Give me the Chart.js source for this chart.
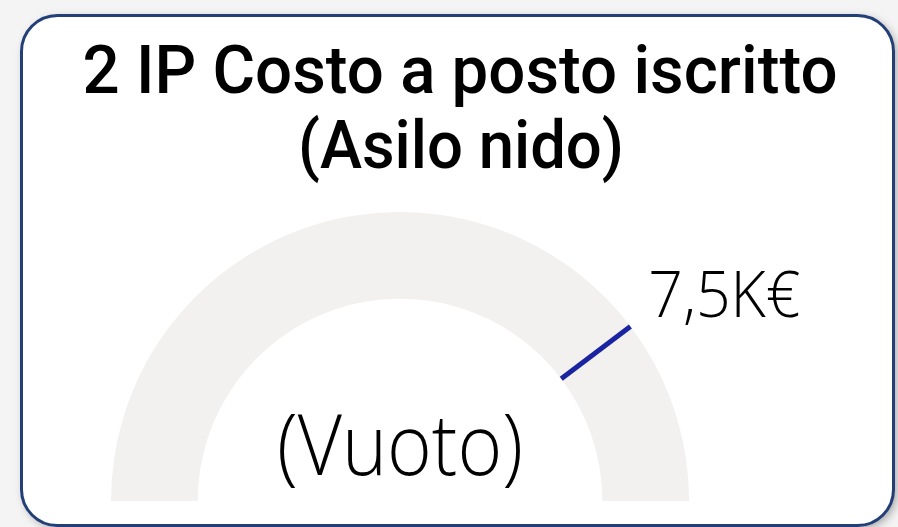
<!DOCTYPE html>
<html>
<head>
<meta charset="utf-8">
<script src="https://cdn.jsdelivr.net/npm/chart.js@4.4.1/dist/chart.umd.min.js"></script>
<style>
  html, body { margin: 0; padding: 0; background: #f4f4f4; }
  #wrap { width: 898px; height: 527px; position: relative; }
  canvas { display: block; }
</style>
</head>
<body>
<div id="wrap"><canvas id="gauge" width="898" height="527"></canvas></div>
<script>
// Gauge data: value missing, target shown on the arc
const titleLines = ['2 IP Costo a posto iscritto', '(Asilo nido)'];
const gaugeMin = 0;
const gaugeMax = 9.45;          // thousands of euro
const targetValue = 7.5;        // thousands of euro
const targetLabel = '7,5K€';
const valueLabel = '(Vuoto)';

// Two gray segments split at the target, so the arc boundary gives the target angle
const segmentValues = [targetValue - gaugeMin, gaugeMax - targetValue];

function fitText(ctx, text, x, y, width, font, align) {
  ctx.save();
  ctx.font = font;
  const w = ctx.measureText(text).width;
  const s = width / w;
  ctx.translate(x, y);
  ctx.scale(s, 1);
  ctx.textBaseline = 'alphabetic';
  ctx.textAlign = align || 'center';
  ctx.fillText(text, 0, 0);
  ctx.restore();
}

function roundRect(ctx, x, y, w, h, r) {
  ctx.beginPath();
  ctx.moveTo(x + r, y);
  ctx.lineTo(x + w - r, y);
  ctx.arcTo(x + w, y, x + w, y + r, r);
  ctx.lineTo(x + w, y + h - r);
  ctx.arcTo(x + w, y + h, x + w - r, y + h, r);
  ctx.lineTo(x + r, y + h);
  ctx.arcTo(x, y + h, x, y + h - r, r);
  ctx.lineTo(x, y + r);
  ctx.arcTo(x, y, x + r, y, r);
  ctx.closePath();
}

const cardPlugin = {
  id: 'card',
  beforeDraw(chart) {
    const ctx = chart.ctx;
    ctx.save();
    ctx.fillStyle = '#f4f4f4';
    ctx.fillRect(0, 0, chart.width, chart.height);
    ctx.shadowColor = 'rgba(0,0,0,0.35)';
    ctx.shadowBlur = 10;
    ctx.shadowOffsetX = 3;
    ctx.shadowOffsetY = 3;
    roundRect(ctx, 21.5, 15.5, 872, 510, 36);
    ctx.fillStyle = '#ffffff';
    ctx.fill();
    ctx.restore();

    ctx.save();
    ctx.fillStyle = '#000000';
    fitText(ctx, titleLines[0], 460, 93, 755, '500 66px Roboto, "DejaVu Sans", sans-serif');
    fitText(ctx, titleLines[1], 461, 168, 326, '500 66px Roboto, "DejaVu Sans", sans-serif');
    ctx.restore();
  },
  afterDraw(chart) {
    const ctx = chart.ctx;
    ctx.save();
    roundRect(ctx, 21.5, 15.5, 872, 510, 36);
    ctx.lineWidth = 3;
    ctx.strokeStyle = '#233f78';
    ctx.stroke();
    ctx.restore();
  }
};

const targetPlugin = {
  id: 'targetMark',
  afterDatasetsDraw(chart) {
    const arc = chart.getDatasetMeta(0).data[0];
    if (!arc) return;
    const p = arc.getProps(['x', 'y', 'endAngle', 'innerRadius', 'outerRadius'], true);
    const a = p.endAngle;
    const ctx = chart.ctx;
    ctx.save();
    ctx.strokeStyle = '#1a23a0';
    ctx.lineWidth = 5;
    ctx.lineCap = 'butt';
    ctx.beginPath();
    ctx.moveTo(p.x + Math.cos(a) * p.innerRadius, p.y + Math.sin(a) * p.innerRadius);
    ctx.lineTo(p.x + Math.cos(a) * p.outerRadius, p.y + Math.sin(a) * p.outerRadius);
    ctx.stroke();

    // target label beyond the outer end of the mark
    ctx.fillStyle = '#000000';
    const ox = p.x + Math.cos(a) * p.outerRadius;
    const oy = p.y + Math.sin(a) * p.outerRadius;
    fitText(ctx, targetLabel, ox + 18, oy - 10, 152, '300 64px "Open Sans", "Noto Sans", sans-serif', 'left');

    // value label in the middle of the gauge
    fitText(ctx, valueLabel, p.x, p.y - 26, 246, '300 84px "Open Sans", "Noto Sans", sans-serif', 'center');
    ctx.restore();
  }
};

new Chart(document.getElementById('gauge'), {
  type: 'doughnut',
  data: {
    labels: ['Obiettivo', 'Resto'],
    datasets: [{
      data: segmentValues,
      backgroundColor: ['#f2f1f0', '#f2f1f0'],
      borderWidth: 0,
      hoverOffset: 0
    }]
  },
  options: {
    responsive: false,
    animation: false,
    rotation: -90,
    circumference: 180,
    cutout: '70%',
    layout: { padding: { left: 111, right: 209, top: 212, bottom: 26 } },
    plugins: {
      legend: { display: false },
      tooltip: { enabled: false },
      title: { display: false }
    }
  },
  plugins: [cardPlugin, targetPlugin]
});
</script>
</body>
</html>
